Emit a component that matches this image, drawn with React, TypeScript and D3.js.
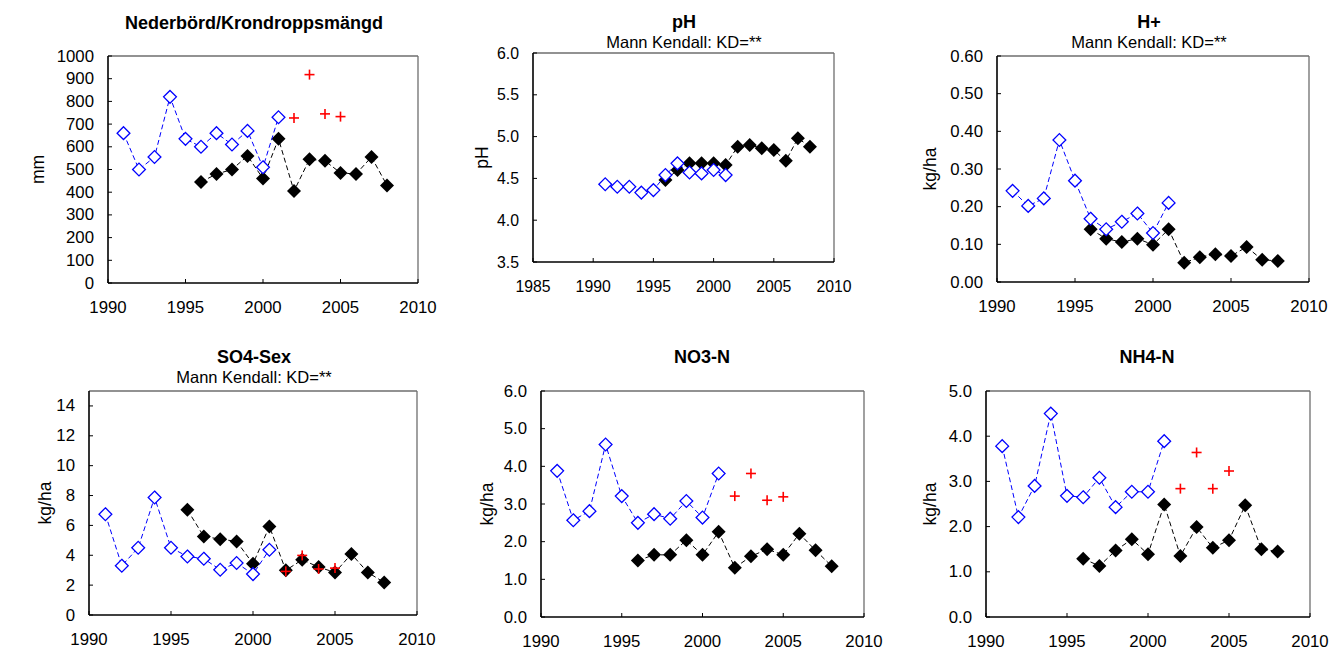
import * as d3 from 'd3';

// years for the three series
const blueYears = [1991, 1992, 1993, 1994, 1995, 1996, 1997, 1998, 1999, 2000, 2001];
const blackYears = [1996, 1997, 1998, 1999, 2000, 2001, 2002, 2003, 2004, 2005, 2006, 2007, 2008];
const redYears = [2002, 2003, 2004, 2005];

// Nederbörd / Krondroppsmängd (mm)
const precipBlue = [660, 500, 555, 820, 635, 600, 660, 610, 670, 510, 730];
const precipBlack = [445, 480, 500, 560, 460, 635, 405, 545, 538, 485, 480, 555, 430];
const precipRed = [727, 918, 745, 733];

// pH
const phBlue = [4.43, 4.4, 4.4, 4.33, 4.36, 4.54, 4.68, 4.57, 4.56, 4.6, 4.54];
const phBlack = [4.48, 4.6, 4.68, 4.68, 4.68, 4.66, 4.88, 4.9, 4.86, 4.84, 4.71, 4.98, 4.88];

// H+ (kg/ha)
const hBlue = [0.242, 0.202, 0.222, 0.377, 0.269, 0.168, 0.14, 0.16, 0.182, 0.13, 0.21];
const hBlack = [0.14, 0.115, 0.106, 0.115, 0.099, 0.14, 0.051, 0.066, 0.074, 0.069, 0.093, 0.059, 0.056];

// SO4-Sex (kg/ha)
const so4Blue = [6.75, 3.3, 4.5, 7.87, 4.5, 3.92, 3.77, 3.03, 3.48, 2.74, 4.37];
const so4Black = [7.04, 5.26, 5.08, 4.93, 3.43, 5.93, 2.99, 3.7, 3.21, 2.85, 4.08, 2.85, 2.18];
const so4Red = [2.92, 3.99, 3.08, 3.14];

// NO3-N (kg/ha)
const no3Blue = [3.88, 2.57, 2.81, 4.58, 3.21, 2.5, 2.73, 2.61, 3.08, 2.64, 3.81];
const no3Black = [1.5, 1.65, 1.65, 2.04, 1.65, 2.26, 1.31, 1.61, 1.8, 1.65, 2.21, 1.77, 1.35];
const no3Red = [3.21, 3.81, 3.1, 3.19];

// NH4-N (kg/ha)
const nh4Blue = [3.78, 2.21, 2.9, 4.5, 2.68, 2.65, 3.08, 2.43, 2.77, 2.77, 3.89];
const nh4Black = [1.29, 1.13, 1.47, 1.72, 1.39, 2.49, 1.35, 1.99, 1.53, 1.7, 2.47, 1.5, 1.45];
const nh4Red = [2.84, 3.64, 2.84, 3.23];

// tick labels
const yearTicks = [1990, 1995, 2000, 2005, 2010];
const phYearTicks = [1985, 1990, 1995, 2000, 2005, 2010];
const precipTicks = [0, 100, 200, 300, 400, 500, 600, 700, 800, 900, 1000];
const phTicks = [3.5, 4.0, 4.5, 5.0, 5.5, 6.0];
const hTicks = [0, 0.1, 0.2, 0.3, 0.4, 0.5, 0.6];
const so4Ticks = [0, 2, 4, 6, 8, 10, 12, 14];
const no3Ticks = [0, 1, 2, 3, 4, 5, 6];
const nh4Ticks = [0, 1, 2, 3, 4, 5];

const FONT = '"Liberation Sans", Arial, sans-serif';
const SUB = 'Mann Kendall: KD=**';

type Panel = {
  title: string;
  subtitle?: string;
  yLabel: string;
  blue: number[];
  black: number[];
  red?: number[];
  yDomain: [number, number];
  yTicks: number[];
  fmt: (v: number) => string;
  xDomain: [number, number];
  xTicks: number[];
  left: number;
  right: number;
  top: number;
  bottom: number;
  titleX: number;
  titleY: number;
  labelX: number;
  tickSize: number;
};

const panels: Panel[] = [
  {
    title: 'Nederbörd/Krondroppsmängd', yLabel: 'mm',
    blue: precipBlue, black: precipBlack, red: precipRed,
    yDomain: [0, 1000], yTicks: precipTicks, fmt: d3.format('d'),
    xDomain: [1990, 2010], xTicks: yearTicks,
    left: 108, right: 418, top: 56, bottom: 283, titleX: 254, titleY: 29, labelX: 38, tickSize: 16.8,
  },
  {
    title: 'pH', subtitle: SUB, yLabel: 'pH',
    blue: phBlue, black: phBlack,
    yDomain: [3.5, 6.0], yTicks: phTicks, fmt: d3.format('.1f'),
    xDomain: [1985, 2010], xTicks: phYearTicks,
    left: 533, right: 834, top: 53, bottom: 262, titleX: 684, titleY: 28, labelX: 482, tickSize: 15.8,
  },
  {
    title: 'H+', subtitle: SUB, yLabel: 'kg/ha',
    blue: hBlue, black: hBlack,
    yDomain: [0, 0.6], yTicks: hTicks, fmt: d3.format('.2f'),
    xDomain: [1990, 2010], xTicks: yearTicks,
    left: 997, right: 1309, top: 56, bottom: 282, titleX: 1149, titleY: 28, labelX: 930, tickSize: 16.8,
  },
  {
    title: 'SO4-Sex', subtitle: SUB, yLabel: 'kg/ha',
    blue: so4Blue, black: so4Black, red: so4Red,
    yDomain: [0, 15], yTicks: so4Ticks, fmt: d3.format('d'),
    xDomain: [1990, 2010], xTicks: yearTicks,
    left: 89, right: 417, top: 391, bottom: 615, titleX: 254, titleY: 363, labelX: 45, tickSize: 16.8,
  },
  {
    title: 'NO3-N', yLabel: 'kg/ha',
    blue: no3Blue, black: no3Black, red: no3Red,
    yDomain: [0, 6], yTicks: no3Ticks, fmt: d3.format('.1f'),
    xDomain: [1990, 2010], xTicks: yearTicks,
    left: 541, right: 864, top: 391, bottom: 617, titleX: 702, titleY: 363, labelX: 487, tickSize: 16.8,
  },
  {
    title: 'NH4-N', yLabel: 'kg/ha',
    blue: nh4Blue, black: nh4Black, red: nh4Red,
    yDomain: [0, 5], yTicks: nh4Ticks, fmt: d3.format('.1f'),
    xDomain: [1990, 2010], xTicks: yearTicks,
    left: 986, right: 1310, top: 391, bottom: 617, titleX: 1147, titleY: 363, labelX: 930, tickSize: 16.8,
  },
];

const diamond = (r: number) => `M0,${-r}L${r},0L0,${r}L${-r},0Z`;

function Chart({ p }: { p: Panel }) {
  const x = d3.scaleLinear().domain(p.xDomain).range([p.left, p.right]);
  const y = d3.scaleLinear().domain(p.yDomain).range([p.bottom, p.top]);
  const line = d3.line<[number, number]>().x((d) => x(d[0])).y((d) => y(d[1]));
  const bluePts = blueYears.map((yr, i) => [yr, p.blue[i]] as [number, number]);
  const blackPts = blackYears.map((yr, i) => [yr, p.black[i]] as [number, number]);
  const redPts = p.red ? redYears.map((yr, i) => [yr, p.red![i]] as [number, number]) : [];
  const midY = (p.top + p.bottom) / 2;

  return (
    <g>
      <text x={p.titleX} y={p.titleY} textAnchor="middle" fontWeight="bold" fontSize={18}>
        {p.title}
      </text>
      {p.subtitle && (
        <text x={p.titleX} y={p.titleY + 20} textAnchor="middle" fontSize={16.5}>
          {p.subtitle}
        </text>
      )}
      <text
        transform={`translate(${p.labelX},${midY}) rotate(-90)`}
        textAnchor="middle"
        dominantBaseline="central"
        fontSize={17.5}
      >
        {p.yLabel}
      </text>

      {/* frame: top/right grey, left/bottom black */}
      <line x1={p.left} x2={p.right} y1={p.top} y2={p.top} stroke="#6e6e6e" strokeWidth={1.3} />
      <line x1={p.right} x2={p.right} y1={p.top} y2={p.bottom} stroke="#6e6e6e" strokeWidth={1.3} />

      {p.yTicks.map((t) => (
        <g key={'y' + t}>
          <line x1={p.left} x2={p.left + 4} y1={y(t)} y2={y(t)} stroke="#000" strokeWidth={1} />
          <text x={p.left - 14} y={y(t)} textAnchor="end" dominantBaseline="central" fontSize={p.tickSize}>
            {p.fmt(t)}
          </text>
        </g>
      ))}
      {p.xTicks.map((t) => (
        <g key={'x' + t}>
          <line x1={x(t)} x2={x(t)} y1={p.bottom} y2={p.bottom - 4} stroke="#000" strokeWidth={1} />
          <text x={x(t)} y={p.bottom + 24} textAnchor="middle" dominantBaseline="central" fontSize={p.tickSize}>
            {t}
          </text>
        </g>
      ))}
      <line x1={p.left} x2={p.left} y1={p.top} y2={p.bottom} stroke="#000" strokeWidth={1.6} />
      <line x1={p.left} x2={p.right} y1={p.bottom} y2={p.bottom} stroke="#000" strokeWidth={1.6} />

      <path d={line(blackPts) || ''} fill="none" stroke="#000" strokeWidth={1} strokeDasharray="5,3" />
      {blackPts.map((d) => (
        <path key={'k' + d[0]} d={diamond(7)} transform={`translate(${x(d[0])},${y(d[1])})`} fill="#000" />
      ))}
      <path d={line(bluePts) || ''} fill="none" stroke="#0000ff" strokeWidth={1} strokeDasharray="5,3" />
      {bluePts.map((d) => (
        <path
          key={'b' + d[0]}
          d={diamond(6.4)}
          transform={`translate(${x(d[0])},${y(d[1])})`}
          fill="#fff"
          stroke="#0000ff"
          strokeWidth={1.3}
        />
      ))}
      {redPts.map((d) => (
        <g key={'r' + d[0]} transform={`translate(${x(d[0])},${y(d[1])})`} stroke="#ff0000" strokeWidth={1.6}>
          <line x1={-5} x2={5} y1={0} y2={0} />
          <line x1={0} x2={0} y1={-5} y2={5} />
        </g>
      ))}
    </g>
  );
}

export default function App() {
  return (
    <svg
      width={1332}
      height={651}
      style={{ position: 'absolute', left: 0, top: 0, background: '#fff' }}
      fontFamily={FONT}
    >
      {panels.map((p) => (
        <Chart key={p.title} p={p} />
      ))}
    </svg>
  );
}
